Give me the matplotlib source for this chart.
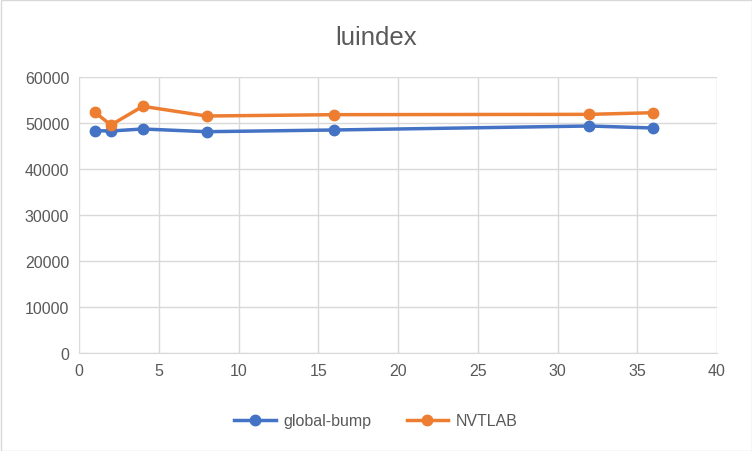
import matplotlib
matplotlib.use('Agg')
import matplotlib.pyplot as plt

threads = [1, 2, 4, 8, 16, 32, 36]
global_bump = [48330, 48260, 48700, 48110, 48480, 49350, 48910]
nvtlab = [52320, 49570, 53630, 51520, 51810, 51880, 52240]

plt.rcParams['font.family'] = ['Liberation Sans', 'DejaVu Sans']

fig = plt.figure(figsize=(7.52, 4.52), dpi=100)
ax = fig.add_axes([79 / 752, 98 / 452, (717 - 79) / 752, (354 - 78) / 452])

ax.plot(threads, global_bump, color='#4472C4', lw=2.5, marker='o', ms=7.5, label='global-bump')
ax.plot(threads, nvtlab, color='#ED7D31', lw=2.5, marker='o', ms=7.5, label='NVTLAB')

ax.set_xlim(0, 40)
ax.set_ylim(0, 60000)
ax.set_xticks(range(0, 41, 5))
ax.set_yticks(range(0, 60001, 10000))
ax.grid(True, color='#d9d9d9', lw=1)
ax.set_axisbelow(True)
for s in ['top', 'right', 'left']:
    ax.spines[s].set_visible(False)
ax.spines['bottom'].set_color('#d9d9d9')
ax.tick_params(length=0, colors='#595959', labelsize=11.5, pad=7)

fig.suptitle('luindex', y=1 - 38 / 452, va='center', fontsize=18.5, color='#595959')
ax.legend(loc='center', bbox_to_anchor=(0.5, 1 - 422 / 452), bbox_transform=fig.transFigure,
          ncol=2, frameon=False, fontsize=11.5, labelcolor='#595959', handlelength=2.6,
          handletextpad=0.5, columnspacing=2.2)

fig.patches.append(plt.Rectangle((0.5 / 752, 0.5 / 452), 751 / 752, 451 / 452, transform=fig.transFigure,
                                 fill=False, edgecolor='#d9d9d9', lw=1))

fig.savefig('out.png', dpi=100)
